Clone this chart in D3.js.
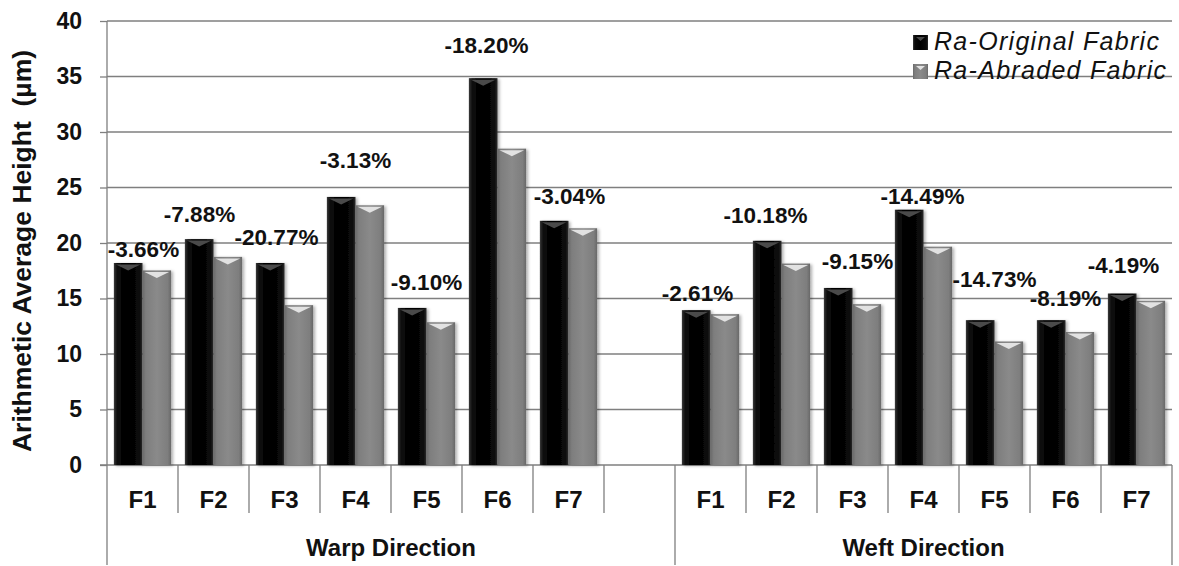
<!DOCTYPE html>
<html>
<head>
<meta charset="utf-8">
<script src="https://cdn.jsdelivr.net/npm/d3@7"></script>
<style>
  body { margin: 0; background: #fff; }
  text { font-family: "Liberation Sans", Arial, sans-serif; }
</style>
</head>
<body>
<script>
// ---- data ----
var groups = ["Warp Direction", "Weft Direction"];
var fabrics = ["F1", "F2", "F3", "F4", "F5", "F6", "F7"];
var series = ["Ra-Original Fabric", "Ra-Abraded Fabric"];

var warpOriginal = [18.2, 20.35, 18.2, 24.15, 14.15, 34.85, 22.0];
var warpAbraded  = [17.53, 18.75, 14.4, 23.4, 12.86, 28.5, 21.33];
var weftOriginal = [13.95, 20.2, 15.95, 23.0, 13.05, 13.05, 15.45];
var weftAbraded  = [13.59, 18.15, 14.49, 19.67, 11.13, 11.98, 14.8];

var warpChange = ["-3.66%", "-7.88%", "-20.77%", "-3.13%", "-9.10%", "-18.20%", "-3.04%"];
var weftChange = ["-2.61%", "-10.18%", "-9.15%", "-14.49%", "-14.73%", "-8.19%", "-4.19%"];

var yTicks = [0, 5, 10, 15, 20, 25, 30, 35, 40];

// hand placement of the % labels (pixels, like the original's dragged labels)
var warpShift = [[1, 12], [-14, 1], [-8, 0], [0, -11], [0, 0], [-11, -7], [1, 1]];
var weftShift = [[-13, 9], [-16, 0], [5, -1], [-1, 12], [0, -15], [0, 4], [-13, -3]];

// ---- layout ----
var W = 1179, H = 566;
var plotLeft = 107, plotRight = 1172, plotTop = 21, plotBottom = 465;

// one slot per category; warp gets an extra empty slot like the original
var rows = [];
fabrics.forEach(function (f, i) {
  rows.push({ key: "warp-" + f, name: f, group: 0, vals: [warpOriginal[i], warpAbraded[i]], label: warpChange[i], shift: warpShift[i] });
});
rows.push({ key: "warp-blank", name: "", group: 0, vals: null });
fabrics.forEach(function (f, i) {
  rows.push({ key: "weft-" + f, name: f, group: 1, vals: [weftOriginal[i], weftAbraded[i]], label: weftChange[i], shift: weftShift[i] });
});

var x = d3.scaleBand()
  .domain(rows.map(function (d) { return d.key; }))
  .range([plotLeft, plotRight])
  .padding(0);

var x1 = d3.scaleBand()
  .domain(series)
  .range([0, x.bandwidth()])
  .paddingOuter(0.24)
  .paddingInner(0);

var y = d3.scaleLinear()
  .domain([0, 40])
  .range([plotBottom, plotTop]);

var svg = d3.select("body").append("svg")
  .attr("width", W)
  .attr("height", H);

// gradients + shadow for the bevelled bars
var defs = svg.append("defs");
function grad(id, stops) {
  var g = defs.append("linearGradient").attr("id", id)
    .attr("x1", "0%").attr("x2", "100%").attr("y1", "0%").attr("y2", "0%");
  stops.forEach(function (s) {
    g.append("stop").attr("offset", s[0]).attr("stop-color", s[1]);
  });
}
grad("gBlack", [["0%", "#3a3a3a"], ["12%", "#0a0a0a"], ["50%", "#000"], ["88%", "#0a0a0a"], ["100%", "#2a2a2a"]]);
grad("gGray", [["0%", "#6a6a6a"], ["12%", "#7e7e7e"], ["50%", "#8a8a8a"], ["88%", "#7e7e7e"], ["100%", "#686868"]]);
var colors = ["url(#gBlack)", "url(#gGray)"];
var capColors = ["#4a4a4a", "#e2e2e2"];

var f = defs.append("filter").attr("id", "shadow")
  .attr("x", "-20%").attr("y", "-10%").attr("width", "150%").attr("height", "120%");
f.append("feDropShadow").attr("dx", 2).attr("dy", 1)
  .attr("stdDeviation", 1.5).attr("flood-color", "#000").attr("flood-opacity", 0.3);

// grid lines
svg.append("g")
  .selectAll("line")
  .data(yTicks.slice(1))
  .enter().append("line")
  .attr("x1", plotLeft).attr("x2", plotRight)
  .attr("y1", function (d) { return y(d); })
  .attr("y2", function (d) { return y(d); })
  .attr("stroke", "#7f7f7f")
  .attr("stroke-width", 1.3);

// y axis
var yAxis = svg.append("g")
  .attr("transform", "translate(" + plotLeft + ",0)")
  .call(d3.axisLeft(y).tickValues(yTicks).tickSize(7).tickPadding(18));
yAxis.select(".domain").remove();
yAxis.selectAll(".tick line").attr("stroke", "#7f7f7f").attr("stroke-width", 1.3);
yAxis.selectAll(".tick text")
  .attr("fill", "#111")
  .style("font-size", "23px")
  .style("font-weight", "bold")
  .style("font-family", "'Liberation Sans', Arial, sans-serif");

// y title
svg.append("text")
  .attr("transform", "translate(31,251) rotate(-90)")
  .attr("text-anchor", "middle")
  .style("font-size", "26.5px")
  .style("font-weight", "bold")
  .attr("fill", "#111")
  .attr("xml:space", "preserve")
  .text("Arithmetic Average Height  (\u00b5m)");

// category axis lines
var axisG = svg.append("g").attr("stroke", "#7f7f7f").attr("stroke-width", 1.3);
axisG.append("line").attr("x1", plotLeft - 7).attr("x2", plotRight).attr("y1", plotBottom).attr("y2", plotBottom);
axisG.append("line").attr("x1", plotLeft).attr("x2", plotLeft).attr("y1", plotTop).attr("y2", plotBottom);

var bounds = rows.map(function (d, i) {
  var isGroupEdge = i === 0 || rows[i - 1].group !== d.group;
  return { x: x(d.key), long: isGroupEdge };
});
bounds.push({ x: plotRight, long: true });

axisG.selectAll("line.sep")
  .data(bounds)
  .enter().append("line")
  .attr("class", "sep")
  .attr("x1", function (d) { return d.x; })
  .attr("x2", function (d) { return d.x; })
  .attr("y1", plotBottom)
  .attr("y2", function (d) { return d.long ? 565 : 513; });

// category labels
svg.append("g")
  .selectAll("text")
  .data(rows.filter(function (d) { return d.name; }))
  .enter().append("text")
  .attr("x", function (d) { return x(d.key) + x.bandwidth() / 2; })
  .attr("y", 508)
  .attr("text-anchor", "middle")
  .style("font-size", "24px")
  .style("font-weight", "bold")
  .attr("fill", "#111")
  .text(function (d) { return d.name; });

// group labels
svg.append("g")
  .selectAll("text")
  .data(groups)
  .enter().append("text")
  .attr("x", function (g, gi) {
    var r = rows.filter(function (d) { return d.group === gi; });
    var a = x(r[0].key), b = x(r[r.length - 1].key) + x.bandwidth();
    return (a + b) / 2;
  })
  .attr("y", 556)
  .attr("text-anchor", "middle")
  .style("font-size", "24px")
  .style("font-weight", "bold")
  .attr("fill", "#111")
  .text(function (d) { return d; });

// bars
var cats = svg.append("g")
  .selectAll("g")
  .data(rows.filter(function (d) { return d.vals; }))
  .enter().append("g")
  .attr("transform", function (d) { return "translate(" + x(d.key) + ",0)"; });

var bar = cats.selectAll("g")
  .data(function (d) { return d.vals.map(function (v, i) { return { s: i, v: v }; }); })
  .enter().append("g");

bar.append("rect")
  .attr("x", function (d) { return x1(series[d.s]); })
  .attr("y", function (d) { return y(d.v); })
  .attr("width", x1.bandwidth())
  .attr("height", function (d) { return plotBottom - y(d.v); })
  .attr("fill", function (d) { return colors[d.s]; })
  .attr("filter", "url(#shadow)");

// small bevel triangle on top of each bar
bar.append("path")
  .attr("d", function (d) {
    var bx = x1(series[d.s]), bw = x1.bandwidth(), by = y(d.v) + 1.5;
    return "M" + (bx + 2) + "," + by + "L" + (bx + bw - 2) + "," + by + "L" + (bx + bw / 2) + "," + (by + 6) + "Z";
  })
  .attr("fill", function (d) { return capColors[d.s]; });

// % change labels
cats.append("text")
  .attr("x", function (d) { return x.bandwidth() / 2 + d.shift[0]; })
  .attr("y", function (d) { return y(d.vals[0]) - 18 + d.shift[1]; })
  .attr("text-anchor", "middle")
  .style("font-size", "22.5px")
  .style("font-weight", "bold")
  .attr("fill", "#111")
  .text(function (d) { return d.label; });

// legend
var legend = svg.append("g").attr("transform", "translate(913,35)");
var li = legend.selectAll("g")
  .data(series)
  .enter().append("g")
  .attr("transform", function (d, i) { return "translate(0," + (i * 29) + ")"; });
li.append("rect")
  .attr("width", 15).attr("height", 15)
  .attr("fill", function (d, i) { return colors[i]; });
li.append("path")
  .attr("d", "M3,2L12,2L7.5,6Z")
  .attr("fill", function (d, i) { return capColors[i]; });
li.append("text")
  .attr("x", 21)
  .attr("y", 15)
  .style("font-size", "25px")
  .style("font-style", "italic")
  .style("letter-spacing", "1.3px")
  .attr("fill", "#111")
  .text(function (d) { return d; });
</script>
</body>
</html>
